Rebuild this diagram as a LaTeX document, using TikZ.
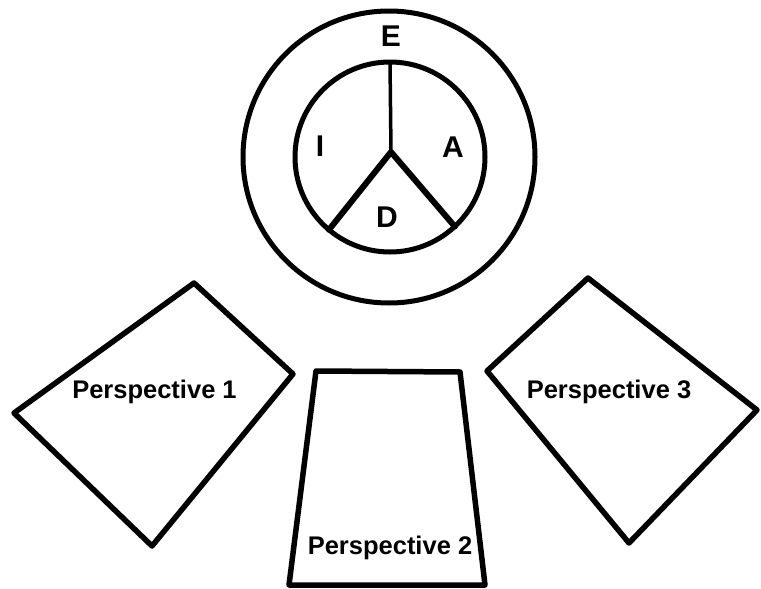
\documentclass[tikz,border=0pt]{standalone}
\usepackage{fontspec}
\setmainfont{Liberation Sans}
\begin{document}
\begin{tikzpicture}[x=1pt,y=-1pt,line join=round,line cap=round,
  ring/.style={circle,draw,line width=5pt,outer sep=0pt,inner sep=0pt},
  quad/.style={draw,line width=5.5pt},
  letter/.style={font=\fontsize{30}{32}\selectfont\bfseries,inner sep=0pt},
  plbl/.style={font=\fontsize{25.5}{27}\selectfont\bfseries,inner sep=0pt,anchor=base}]
\useasboundingbox (0,0) rectangle (761,589);
% circles
\node[ring,minimum size=292pt] (outer) at (389,157) {};
\node[ring,minimum size=190pt] (inner) at (390,157) {};
\coordinate (apex) at (391,152);
\draw[line width=3.5pt] (inner.north) -- (apex);
\draw[line width=6pt] (inner.230) -- (apex) -- (inner.313);
% letters
\node[letter] (E) at (391,36) {E};
\node[letter] (I) at (320,146) {I};
\node[letter] (A) at (453,147) {A};
\node[letter] (D) at (387,217) {D};
% perspective 1
\coordinate (p1t) at (194,283);
\coordinate (p1r) at (293,374);
\coordinate (p1b) at (152,546);
\coordinate (p1l) at (14,413);
\draw[quad] (p1t) -- (p1r) -- (p1b) -- (p1l) -- cycle;
\node[plbl] (t1) at (154.5,398) {Perspective 1};
% perspective 2
\coordinate (p2a) at (316,371);
\coordinate (p2b) at (460,372);
\coordinate (p2c) at (485,585);
\coordinate (p2d) at (289,585);
\draw[quad] (p2a) -- (p2b) -- (p2c) -- (p2d) -- cycle;
\node[plbl] (t2) at (390,554) {Perspective 2};
% perspective 3
\coordinate (p3t) at (588,278);
\coordinate (p3r) at (757,410);
\coordinate (p3b) at (629,543);
\coordinate (p3l) at (487,371);
\draw[quad] (p3t) -- (p3r) -- (p3b) -- (p3l) -- cycle;
\node[plbl] (t3) at (609,398) {Perspective 3};
\end{tikzpicture}
\end{document}
